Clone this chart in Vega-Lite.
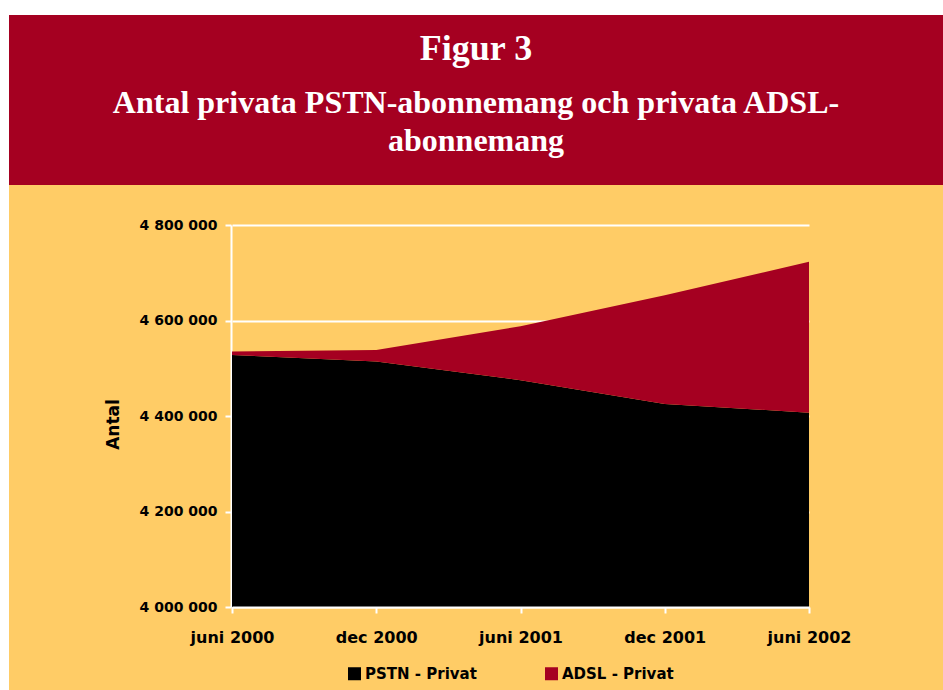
{
  "$schema": "https://vega.github.io/schema/vega-lite/v6.json",
  "background": "#FFFFFF",
  "padding": {"left": 9, "top": 15, "right": 0, "bottom": 0},
  "spacing": 0,
  "config": {
    "font": "DejaVu Sans",
    "concat": {"spacing": 0}
  },
  "vconcat": [
    {
      "width": 934,
      "height": 170,
      "view": {"fill": "#A50021", "stroke": null},
      "data": {"values": []},
      "mark": "point",
      "title": {
        "text": "Figur 3",
        "subtitle": ["Antal privata PSTN-abonnemang och privata ADSL-", "abonnemang"],
        "anchor": "middle",
        "orient": "top",
        "offset": -143,
        "font": "Liberation Serif",
        "fontSize": 36,
        "fontWeight": "bold",
        "color": "#FFFFFF",
        "subtitleFont": "Liberation Serif",
        "subtitleFontSize": 32,
        "subtitleFontWeight": "bold",
        "subtitleColor": "#FFFFFF",
        "subtitlePadding": 20,
        "subtitleLineHeight": 38
      }
    },
    {
      "width": 934,
      "height": 505,
      "view": {"fill": "#FFCC66", "stroke": null},
      "data": {
        "values": [
          {"period": "juni 2000", "series": "PSTN - Privat", "value": 4528000},
          {"period": "dec 2000", "series": "PSTN - Privat", "value": 4514000},
          {"period": "juni 2001", "series": "PSTN - Privat", "value": 4475000},
          {"period": "dec 2001", "series": "PSTN - Privat", "value": 4425000},
          {"period": "juni 2002", "series": "PSTN - Privat", "value": 4407000},
          {"period": "juni 2000", "series": "ADSL - Privat", "value": 7000},
          {"period": "dec 2000", "series": "ADSL - Privat", "value": 24000},
          {"period": "juni 2001", "series": "ADSL - Privat", "value": 113000},
          {"period": "dec 2001", "series": "ADSL - Privat", "value": 228000},
          {"period": "juni 2002", "series": "ADSL - Privat", "value": 316000}
        ]
      },
      "mark": {"type": "area", "interpolate": "linear"},
      "encoding": {
        "x": {
          "field": "period",
          "type": "ordinal",
          "sort": null,
          "scale": {"type": "point", "range": [223, 800], "padding": 0},
          "axis": {
            "title": null,
            "orient": "bottom",
            "offset": -83,
            "labelAngle": 0,
            "labelFont": "DejaVu Sans",
            "labelFontSize": 16,
            "labelFontWeight": "bold",
            "labelColor": "#000000",
            "labelPadding": 16,
            "domainColor": "#FFFFFF",
            "domainWidth": 2,
            "tickColor": "#FFFFFF",
            "tickWidth": 2,
            "tickSize": 6,
            "grid": false,
            "zindex": 1
          }
        },
        "y": {
          "field": "value",
          "type": "quantitative",
          "stack": "zero",
          "scale": {"domain": [4000000, 4800000], "range": [422, 40], "clamp": true, "zero": false, "nice": false},
          "axis": {
            "title": "Antal",
            "orient": "left",
            "offset": -222,
            "values": [4000000, 4200000, 4400000, 4600000, 4800000],
            "format": ",d",
            "labelExpr": "replace(datum.label, /,/g, ' ')",
            "labelFont": "DejaVu Sans",
            "labelFontSize": 14,
            "labelFontWeight": "bold",
            "labelColor": "#000000",
            "labelPadding": 8,
            "titleFont": "DejaVu Sans",
            "titleFontSize": 17,
            "titleFontWeight": "bold",
            "titleColor": "#000000",
            "titlePadding": 17,
            "titleY": 239,
            "domainColor": "#FFFFFF",
            "domainWidth": 2,
            "tickColor": "#FFFFFF",
            "tickWidth": 2,
            "tickSize": 6,
            "grid": true,
            "gridColor": "#FFFFFF",
            "gridWidth": 2,
            "gridOpacity": 1,
            "zindex": 0
          }
        },
        "color": {
          "field": "series",
          "type": "nominal",
          "scale": {"domain": ["PSTN - Privat", "ADSL - Privat"], "range": ["#000000", "#A50021"]},
          "legend": {
            "title": null,
            "orient": "none",
            "direction": "horizontal",
            "legendX": 338,
            "legendY": 651,
            "symbolType": "square",
            "symbolSize": 169,
            "symbolStrokeWidth": 0,
            "symbolOpacity": 1,
            "labelFont": "DejaVu Sans",
            "labelFontSize": 15,
            "labelFontWeight": "bold",
            "labelColor": "#000000",
            "labelOffset": 3,
            "columnPadding": 67
          }
        },
        "order": {"field": "series", "sort": "descending"}
      }
    }
  ]
}
